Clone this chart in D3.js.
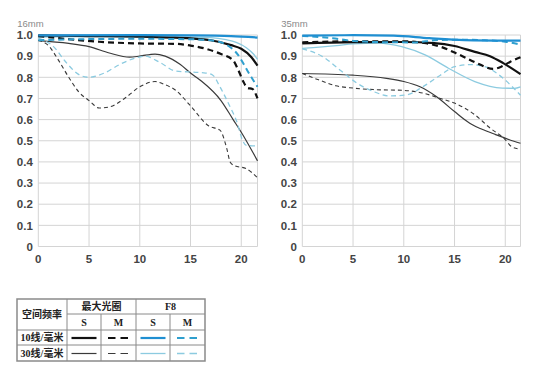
<!DOCTYPE html>
<html><head><meta charset="utf-8">
<script src="https://cdn.jsdelivr.net/npm/d3@7"></script>
<style>body{margin:0;background:#fff}svg{display:block}</style>
</head><body><svg id="c" width="550" height="369"></svg>
<script>
// ---------- data ----------
const panelTitles = ["16mm", "35mm"];
const xTicks = [0, 5, 10, 15, 20];
const yTicks = [0, 0.1, 0.2, 0.3, 0.4, 0.5, 0.6, 0.7, 0.8, 0.9, 1.0];
const yTickLabels = ["0", "0.1", "0.2", "0.3", "0.4", "0.5", "0.6", "0.7", "0.8", "0.9", "1.0"];
const xMax = [21.6, 21.5];

// 16mm
const w16_maxS10 = [[0,0.998],[5,0.995],[10,0.992],[13,0.988],[15,0.984],[17,0.975],[19,0.952],[20,0.935],[21,0.895],[21.6,0.855]];
const w16_maxM10 = [[0,0.995],[3,0.98],[6,0.968],[10,0.96],[13.6,0.958],[15,0.95],[16.5,0.935],[18,0.91],[19.2,0.88],[19.7,0.835],[20.2,0.78],[20.6,0.75],[21.1,0.745],[21.6,0.70]];
const w16_f8S10  = [[0,0.998],[10,0.999],[15,0.998],[19,0.995],[21.6,0.988]];
const w16_f8M10  = [[0,0.975],[4,0.98],[10,0.982],[15,0.98],[17,0.975],[18.5,0.955],[19.7,0.905],[20.5,0.84],[21,0.80],[21.6,0.755]];
const w16_maxS30 = [[0,0.973],[3,0.96],[5,0.945],[7,0.915],[9,0.895],[10,0.9],[11.5,0.91],[12.5,0.9],[14,0.86],[15,0.82],[16,0.785],[18,0.69],[19.2,0.6],[20,0.54],[21.6,0.405]];
const w16_maxM30 = [[0,0.975],[1,0.95],[2,0.88],[3,0.8],[4,0.73],[5,0.69],[6,0.655],[7,0.66],[8.5,0.7],[10,0.755],[11.5,0.78],[12.5,0.765],[13.5,0.74],[15,0.665],[16.8,0.57],[17.9,0.55],[18.6,0.458],[18.9,0.40],[19.3,0.383],[20.5,0.368],[21.6,0.325]];
const w16_f8S30  = [[0,0.99],[5,0.992],[10,0.99],[15,0.99],[17,0.988],[18.5,0.978],[19.5,0.965],[20.5,0.94],[21.2,0.91],[21.6,0.885]];
const w16_f8M30  = [[0,0.985],[1.5,0.945],[2.8,0.867],[4.1,0.81],[5,0.80],[6.5,0.82],[8,0.86],[9.5,0.89],[10.5,0.90],[12,0.87],[13.5,0.83],[15,0.825],[16.5,0.82],[17.2,0.81],[17.9,0.755],[18.9,0.66],[19.6,0.585],[20.1,0.505],[20.5,0.478],[21.6,0.475]];

// 35mm
const w35_maxS10 = [[0,0.96],[5,0.966],[10,0.967],[13,0.962],[15,0.948],[17,0.92],[18.5,0.9],[19.8,0.867],[21.5,0.815]];
const w35_maxM10 = [[0,0.965],[5,0.97],[10,0.97],[12,0.962],[13.6,0.945],[15.5,0.906],[17.2,0.867],[18.8,0.84],[19.6,0.85],[20.5,0.874],[21.5,0.895]];
const w35_f8S10  = [[0,0.997],[5,0.999],[9,0.997],[12.5,0.985],[16,0.976],[21.5,0.973]];
const w35_f8M10  = [[0,0.995],[3,0.985],[5,0.972],[8,0.966],[11,0.965],[13,0.975],[15,0.978],[18,0.975],[20,0.968],[21.5,0.955]];
const w35_maxS30 = [[0,0.818],[5,0.81],[8.3,0.795],[10,0.78],[11.6,0.755],[13.2,0.709],[15,0.638],[16.5,0.583],[18.2,0.545],[19,0.53],[20.4,0.505],[21.5,0.488]];
const w35_maxM30 = [[0,0.818],[1.6,0.788],[3.3,0.76],[5,0.749],[7,0.742],[10,0.738],[11.9,0.725],[13.6,0.70],[15,0.678],[17,0.623],[18.5,0.56],[19.9,0.51],[20.6,0.473],[21.5,0.46]];
const w35_f8S30  = [[0,0.937],[3.4,0.95],[5,0.958],[7.5,0.962],[9.8,0.945],[12.1,0.906],[14.4,0.843],[17,0.78],[19.7,0.749],[20.9,0.748],[21.5,0.755]];
const w35_f8M30  = [[0,0.935],[2,0.898],[3.7,0.835],[5.4,0.772],[7,0.733],[8.6,0.712],[10.3,0.717],[11.9,0.756],[13.6,0.81],[15,0.85],[16.5,0.86],[18,0.85],[19.8,0.795],[21.5,0.715]];

// legend
const legendHeader = ["空间频率", "最大光圈", "F8"];
const legendSub = ["S", "M", "S", "M"];
const legendRows = ["10线/毫米", "30线/毫米"];

// ---------- styles ----------
const styles = {
  maxS30: {color:"#3a3a3a", w:1.2, dash:null},
  maxM30: {color:"#3a3a3a", w:1.1, dash:"4,3"},
  f8S30:  {color:"#8ccbe0", w:1.3, dash:null},
  f8M30:  {color:"#8ccbe0", w:1.3, dash:"5,3.5"},
  maxS10: {color:"#111", w:2.2, dash:null},
  maxM10: {color:"#111", w:2.2, dash:"6,4"},
  f8M10:  {color:"#2f9fce", w:2.0, dash:"6,4"},
  f8S10:  {color:"#1f8fd2", w:2.2, dash:null}
};
const order = ["maxS30","maxM30","f8S30","f8M30","maxS10","maxM10","f8M10","f8S10"];
const panels = [
  {title:panelTitles[0], left:38.3, right:257.5, xMax:xMax[0], series:{maxS10:w16_maxS10,maxM10:w16_maxM10,f8S10:w16_f8S10,f8M10:w16_f8M10,maxS30:w16_maxS30,maxM30:w16_maxM30,f8S30:w16_f8S30,f8M30:w16_f8M30}},
  {title:panelTitles[1], left:302.3, right:520.5, xMax:xMax[1], series:{maxS10:w35_maxS10,maxM10:w35_maxM10,f8S10:w35_f8S10,f8M10:w35_f8M10,maxS30:w35_maxS30,maxM30:w35_maxM30,f8S30:w35_f8S30,f8M30:w35_f8M30}}
];

const svg = d3.select("#c");
const yTop = 35, yBottom = 246.5;
const y = d3.scaleLinear().domain([0,1]).range([yBottom, yTop]);

panels.forEach(p => {
  const x = d3.scaleLinear().domain([0, p.xMax]).range([p.left, p.right]);
  const g = svg.append("g");
  g.selectAll(".hg").data(yTicks).join("line")
    .attr("x1", p.left).attr("x2", p.right)
    .attr("y1", d => y(d)).attr("y2", d => y(d))
    .attr("stroke", "#d4d4d4").attr("stroke-width", 1);
  g.selectAll(".vg").data(xTicks.concat([p.xMax])).join("line")
    .attr("x1", d => x(d)).attr("x2", d => x(d))
    .attr("y1", yTop).attr("y2", yBottom)
    .attr("stroke", "#d4d4d4").attr("stroke-width", 1);
  g.selectAll(".yl").data(yTicks).join("text")
    .attr("x", p.left - 5.5).attr("y", d => y(d) + 4.2)
    .attr("text-anchor", "end")
    .attr("font-family", "Liberation Sans, Arial, sans-serif")
    .attr("font-size", 11.5).attr("font-weight", "bold").attr("fill", "#444")
    .text((d, i) => yTickLabels[i]);
  g.selectAll(".xl").data(xTicks).join("text")
    .attr("x", d => x(d)).attr("y", yBottom + 16)
    .attr("text-anchor", "middle")
    .attr("font-family", "Liberation Sans, Arial, sans-serif")
    .attr("font-size", 11.5).attr("font-weight", "bold").attr("fill", "#444")
    .text(d => d);
  g.append("text").attr("x", p.left - 21).attr("y", 27)
    .attr("font-family", "Liberation Sans, Arial, sans-serif")
    .attr("font-size", 9.5).attr("fill", "#8a8a8a").text(p.title);
  const line = d3.line().x(d => x(d[0])).y(d => y(d[1])).curve(d3.curveMonotoneX);
  order.forEach(k => {
    const s = styles[k];
    g.append("path").datum(p.series[k]).attr("d", line)
      .attr("fill", "none").attr("stroke", s.color).attr("stroke-width", s.w)
      .attr("stroke-dasharray", s.dash);
  });
});

// ---------- legend table ----------
const cols = [17, 67, 101, 136, 170, 205];
const rows = [299, 314, 330, 345, 361];
const lg = svg.append("g");
const bc = "#8a8a8a";
function hl(x1, x2, yy){ lg.append("line").attr("x1",x1).attr("x2",x2).attr("y1",yy).attr("y2",yy).attr("stroke",bc).attr("stroke-width",1); }
function vl(xx, y1, y2){ lg.append("line").attr("x1",xx).attr("x2",xx).attr("y1",y1).attr("y2",y2).attr("stroke",bc).attr("stroke-width",1); }
lg.append("rect").attr("x",cols[0]).attr("y",rows[0]).attr("width",cols[5]-cols[0]).attr("height",rows[4]-rows[0])
  .attr("fill","none").attr("stroke",bc).attr("stroke-width",1.5);
hl(cols[1], cols[5], rows[1]);
hl(cols[0], cols[5], rows[2]);
hl(cols[0], cols[5], rows[3]);
vl(cols[1], rows[0], rows[4]);
vl(cols[3], rows[0], rows[4]);
vl(cols[2], rows[1], rows[4]);
vl(cols[4], rows[1], rows[4]);
const tf = "Liberation Serif, 'Noto Sans CJK SC', serif";
function txt(t, xx, yy, bold){ lg.append("text").attr("x",xx).attr("y",yy).attr("text-anchor","middle")
  .attr("font-family", tf).attr("font-size", 10).attr("font-weight", bold ? "bold" : "normal").attr("fill","#222").text(t); }
txt(legendHeader[0], (cols[0]+cols[1])/2, (rows[0]+rows[2])/2 + 3.5, true);
txt(legendHeader[1], (cols[1]+cols[3])/2, (rows[0]+rows[1])/2 + 3.5, true);
txt(legendHeader[2], (cols[3]+cols[5])/2, (rows[0]+rows[1])/2 + 3.5, true);
legendSub.forEach((t, i) => txt(t, (cols[i+1]+cols[i+2])/2, (rows[1]+rows[2])/2 + 3.5, true));
legendRows.forEach((t, i) => txt(t, (cols[0]+cols[1])/2, (rows[i+2]+rows[i+3])/2 + 3.5, true));
const legKeys = [["maxS10","maxM10","f8S10","f8M10"],["maxS30","maxM30","f8S30","f8M30"]];
legKeys.forEach((r, ri) => r.forEach((k, ci) => {
  const s = styles[k];
  const cx = (cols[ci+1]+cols[ci+2])/2, cy = (rows[ri+2]+rows[ri+3])/2 + 0.5;
  const half = s.dash ? 10.5 : 12.5;
  lg.append("line").attr("x1", cx-half).attr("x2", cx+half).attr("y1", cy).attr("y2", cy)
    .attr("stroke", s.color).attr("stroke-width", s.w).attr("stroke-dasharray", s.dash ? "7.5,5" : null);
}));
</script></body></html>
